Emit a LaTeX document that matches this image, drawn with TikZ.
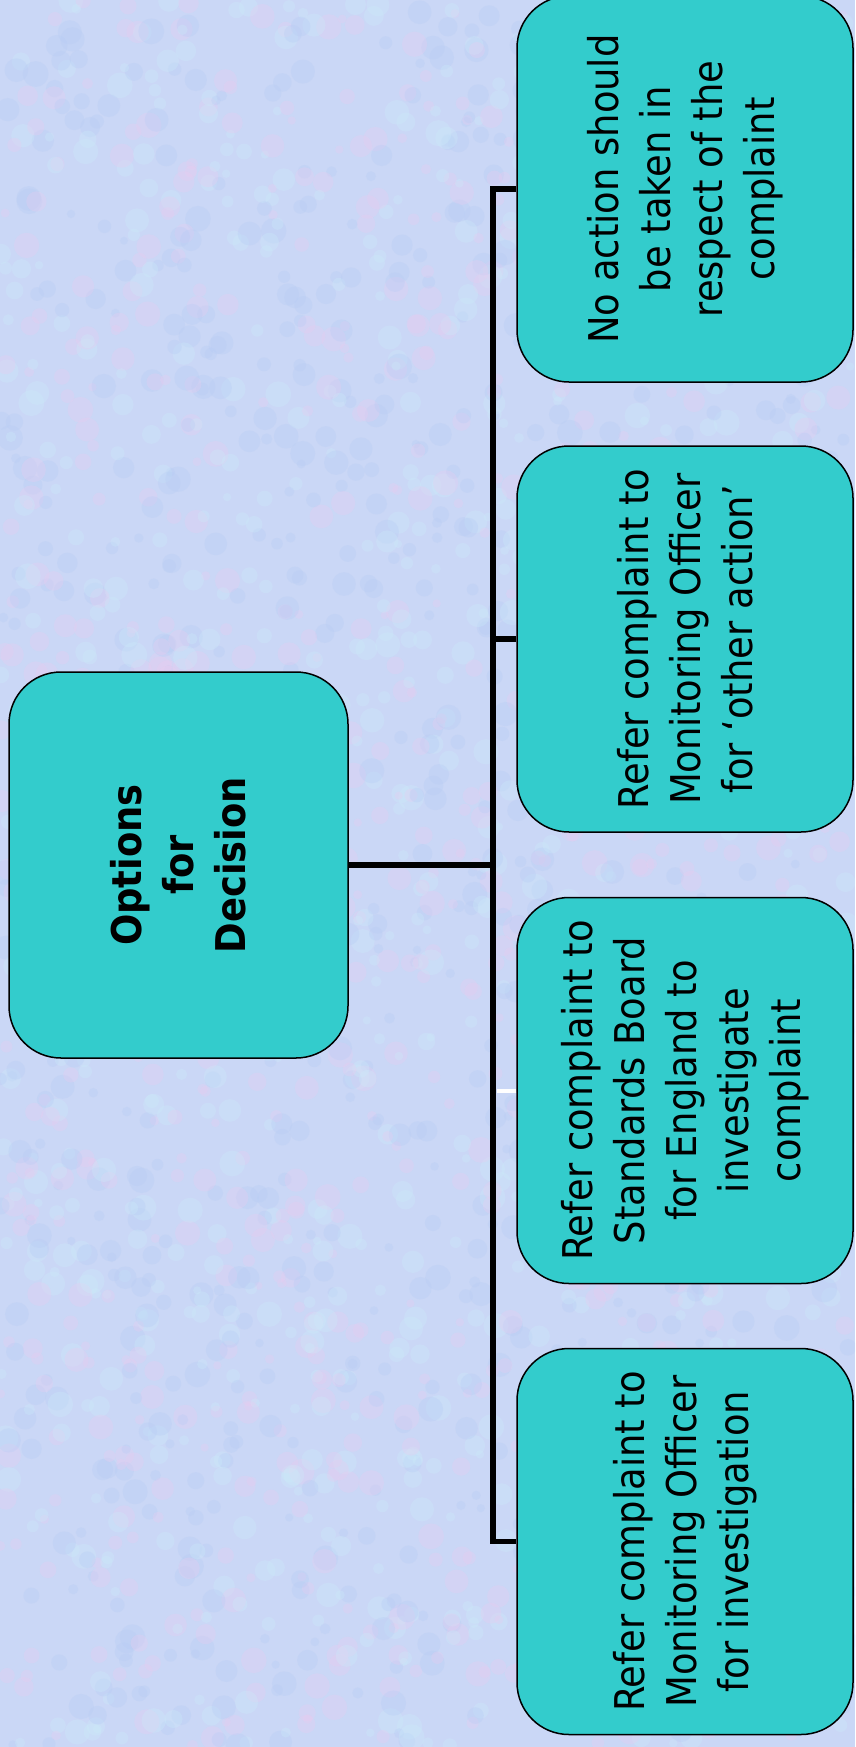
\documentclass[tikz,border=0pt]{standalone}
\usepackage{fontspec}
\newfontfamily\boxfont{DejaVu Sans Condensed}
\definecolor{bgcol}{RGB}{202,215,246}
\definecolor{bgpink}{RGB}{234,204,240}
\definecolor{bgblue}{RGB}{182,204,244}
\definecolor{bgcyan}{RGB}{204,236,250}
\definecolor{boxcol}{RGB}{51,204,204}
\begin{document}
\begin{tikzpicture}[x=1pt,y=-1pt,
  box/.style={draw=black, line width=1.5pt, fill=boxcol, rounded corners=52pt,
    minimum width=336pt, minimum height=386pt, inner sep=0pt},
  lbl/.style={rotate=90, align=center, font=\boxfont\fontsize{41}{52}\selectfont,
    text=black, inner sep=0pt},
  conn/.style={line width=5.5pt, draw=black, line join=miter}]
\useasboundingbox (0,0) rectangle (855,1747);
\fill[bgcol] (0,0) rectangle (855,1747);
\begin{scope}
\clip (0,0) rectangle (855,1747);
\pgfmathsetseed{42}
\foreach \i in {1,...,2600}{
  \pgfmathsetmacro\px{rnd*855}
  \pgfmathsetmacro\py{rnd*1747}
  \pgfmathsetmacro\pr{4+rnd*9}
  \pgfmathrandominteger\pc{0}{2}
  \ifcase\pc \def\cc{bgpink}\or \def\cc{bgblue}\else \def\cc{bgcyan}\fi
  \fill[\cc, opacity=0.3] (\px,\py) circle[radius=\pr];
}
\end{scope}

\node[box, minimum width=339pt] (c) at (178.5,865) {};
\node[lbl, font=\boxfont\bfseries\fontsize{41}{52}\selectfont] (ct) at (c) {Options\\for\\Decision};

\node[box] (b1) at (685,189) {};
\node[lbl] (t1) at (b1) {No action should\\be taken in\\respect of the\\complaint};
\node[box] (b2) at (685,639) {};
\node[lbl] (t2) at (b2) {Refer complaint to\\Monitoring Officer\\for ‘other action’};
\node[box] (b3) at (685,1090.5) {};
\node[lbl] (t3) at (b3) {Refer complaint to\\Standards Board\\for England to\\investigate\\complaint};
\node[box] (b4) at (685,1541.5) {};
\node[lbl] (t4) at (b4) {Refer complaint to\\Monitoring Officer\\for investigation};

\coordinate (j) at (493,865);
\draw[conn] (c.east) -- (j);
\draw[conn] (b1.west) -- (b1.west -| j) -- (b4.west -| j) -- (b4.west);
\draw[conn] (b2.west) -- (b2.west -| j);
\draw[conn, draw=white, line width=4pt] (b3.west) -- ([xshift=4pt]b3.west -| j);
\end{tikzpicture}
\end{document}
